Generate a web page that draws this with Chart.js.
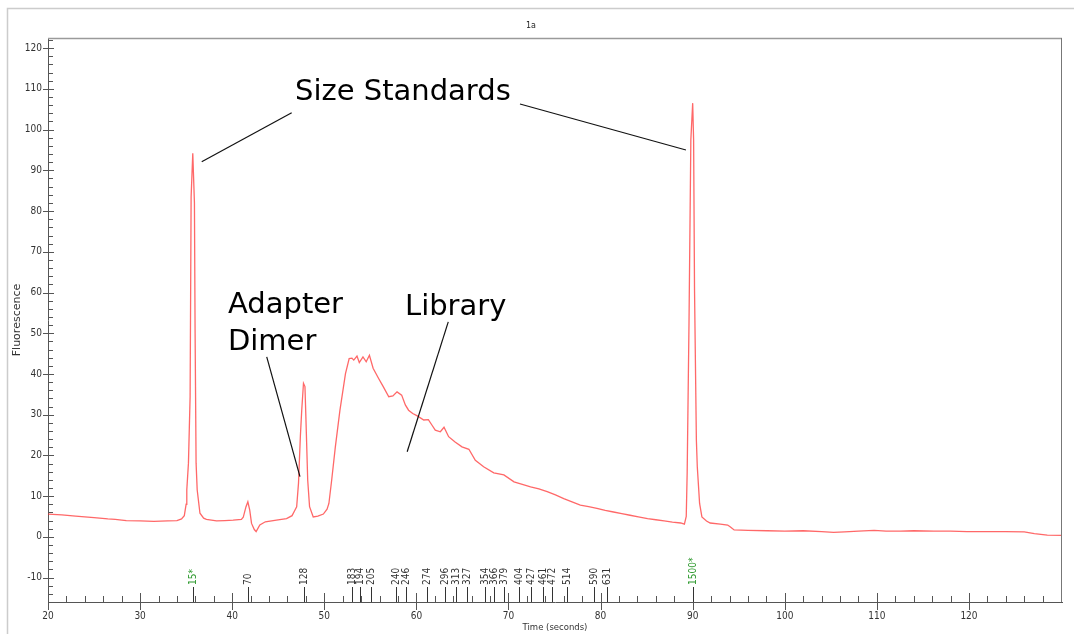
<!DOCTYPE html>
<html>
<head>
<meta charset="utf-8">
<title>1a</title>
<script src="https://cdn.jsdelivr.net/npm/chart.js@4.4.1/dist/chart.umd.min.js"></script>
<style>
  html, body { margin: 0; padding: 0; background: #fff; }
  #wrap { width: 1074px; height: 634px; }
</style>
</head>
<body>
<div id="wrap"><canvas id="trace" width="1074" height="634"></canvas></div>
<script>
// Electropherogram trace, time (s) vs fluorescence
const times = [
  20.0, 21.5, 23.0, 25.0, 26.5, 27.3, 28.5, 30.0, 31.5, 33.0, 34.0, 34.5, 34.8,
  35.0, 35.07, 35.25, 35.43, 35.54, 35.72, 35.9, 35.97, 36.08, 36.2, 36.5, 36.9,
  37.2, 38.3, 39.2, 40.1, 41.0, 41.2, 41.5, 41.7, 41.9, 42.1, 42.4, 42.6, 43.0,
  43.6, 44.8, 45.9, 46.5, 46.75, 47.0, 47.2, 47.4, 47.55, 47.74, 47.9, 48.0,
  48.2, 48.4, 48.8, 49.3, 49.9, 50.3, 50.5, 50.8, 51.2, 51.7, 52.3, 52.7, 53.0,
  53.2, 53.55, 53.8, 54.2, 54.55, 54.9, 55.3, 55.9, 56.4, 57.0, 57.45, 57.9,
  58.4, 58.8, 59.15, 59.6, 60.1, 60.8, 61.3, 61.7, 62.05, 62.6, 63.0, 63.5,
  64.2, 64.95, 65.7, 66.4, 67.3, 68.4, 69.5, 70.6, 71.5, 72.4, 73.3, 74.2,
  75.1, 76.0, 76.9, 77.8, 78.7, 79.6, 80.5, 81.4, 82.3, 83.2, 84.1, 85.1, 86.0,
  86.9, 87.8, 88.7, 89.1, 89.3, 89.4, 89.6, 89.8, 90.0, 90.1, 90.2, 90.4, 90.5,
  90.75, 91.0, 91.5, 91.9, 93.0, 93.8, 94.1, 94.5, 96.0, 98.1, 100.0, 102.0,
  104.0, 105.3, 106.5, 108.0, 109.7, 111.0, 112.6, 114.0, 116.2, 118.0, 119.8,
  122.0, 124.0, 126.0, 127.1, 128.5, 130.1
];
const fluor = [
  5.6, 5.4, 5.1, 4.7, 4.4, 4.3, 4.0, 3.9, 3.8, 3.9, 4.0, 4.4, 5.2,
  8.0, 11.5, 18.1, 34.4, 83.5, 94.2, 82.0, 50.8, 18.1, 11.5, 5.8, 4.6,
  4.3, 3.9, 4.0, 4.1, 4.3, 4.8, 7.4, 8.6, 6.6, 3.3, 1.8, 1.3, 2.9,
  3.7, 4.1, 4.5, 5.2, 6.3, 7.4, 13.2, 24.6, 31.1, 37.7, 36.9, 29.5,
  13.9, 7.4, 4.9, 5.1, 5.6, 6.8, 8.2, 13.9, 22.1, 31.1, 40.1, 43.8, 43.9,
  43.4, 44.4, 42.8, 44.2, 43.0, 44.6, 41.4, 38.9, 36.9, 34.4, 34.6, 35.6,
  34.8, 32.4, 31.1, 30.3, 29.7, 28.7, 28.8, 27.4, 26.2, 25.8, 26.9, 24.6,
  23.3, 22.1, 21.5, 18.8, 17.2, 15.7, 15.2, 13.5, 12.9, 12.3, 11.8, 11.1,
  10.3, 9.4, 8.6, 7.8, 7.4, 7.0, 6.5, 6.1, 5.7, 5.3, 4.9, 4.5, 4.2,
  3.9, 3.6, 3.4, 3.1, 5.0, 15.6, 52.5, 97.5, 106.5, 97.5, 60.6, 23.8, 17.2,
  8.2, 4.9, 3.9, 3.4, 3.1, 2.9, 2.4, 1.7, 1.6, 1.5, 1.4, 1.5,
  1.3, 1.1, 1.2, 1.4, 1.6, 1.4, 1.4, 1.5, 1.4, 1.4, 1.3,
  1.3, 1.3, 1.2, 0.8, 0.4, 0.35
];

// size ladder markers under the trace
const peakLabels = ['15*', '70', '128', '183', '194', '205', '240', '246', '274', '296', '313', '327',
  '354', '366', '379', '404', '427', '461', '472', '514', '590', '631', '1500*'];
const peakTimes = [35.76, 41.73, 47.76, 53.0, 53.9, 55.07, 57.8, 58.9, 61.15, 63.1, 64.3, 65.5,
  67.5, 68.4, 69.5, 71.1, 72.4, 73.8, 74.7, 76.4, 79.25, 80.7, 89.98];
const markerPeaks = ['15*', '1500*'];

const xTicks = [20, 30, 40, 50, 60, 70, 80, 90, 100, 110, 120];
const yTicks = [-10, 0, 10, 20, 30, 40, 50, 60, 70, 80, 90, 100, 110, 120];

// callouts, in data units: text lines and pointer lines
const notes = [
  { text: 'Size Standards', x: 46.82, y: 107.3 },
  { text: 'Adapter', x: 39.54, y: 54.9 },
  { text: 'Dimer', x: 39.54, y: 45.9 },
  { text: 'Library', x: 58.76, y: 54.5 }
];
const pointers = [
  [46.46, 104.15, 36.69, 92.1],
  [71.25, 106.3, 89.27, 95.0],
  [43.75, 44.2, 47.36, 14.8],
  [63.46, 52.8, 59.0, 20.9]
];

const tickFont = { family: '"DejaVu Sans Condensed", "DejaVu Sans", sans-serif', size: 10 };

const decor = {
    id: 'decor',
    beforeDraw(chart) {
        const ctx = chart.ctx;
        ctx.save();
        ctx.strokeStyle = '#cccccc';
        ctx.lineWidth = 1.5;
        ctx.strokeRect(7.5, 8.5, 1100, 700);
        ctx.restore();
    },
    afterDraw(chart) {
        const { ctx, chartArea: a, scales: { x, y } } = chart;
        ctx.save();

        // plot frame, top and right
        ctx.strokeStyle = '#9a9a9a';
        ctx.lineWidth = 1.5;
        ctx.beginPath();
        ctx.moveTo(a.left, a.top + 0.5);
        ctx.lineTo(a.right, a.top + 0.5);
        ctx.stroke();
        ctx.strokeStyle = '#777';
        ctx.lineWidth = 1;
        ctx.beginPath();
        ctx.moveTo(a.right - 0.5, a.top);
        ctx.lineTo(a.right - 0.5, a.bottom);
        ctx.stroke();

        // axis ticks
        ctx.strokeStyle = '#555';
        ctx.lineWidth = 1;
        ctx.beginPath();
        for (let v = 20; v < 130; v += 2) {
            const px = Math.round(x.getPixelForValue(v)) + 0.5;
            if (xTicks.includes(v)) {
                ctx.moveTo(px, a.bottom - 9);
                ctx.lineTo(px, a.bottom + 8);
            } else {
                ctx.moveTo(px, a.bottom - 6);
                ctx.lineTo(px, a.bottom);
            }
        }
        for (let v = -16; v <= 122; v += 2) {
            const py = Math.round(y.getPixelForValue(v)) + 0.5;
            if (yTicks.includes(v)) {
                ctx.moveTo(a.left - 5, py);
                ctx.lineTo(a.left + 6, py);
            } else {
                ctx.moveTo(a.left, py);
                ctx.lineTo(a.left + 5, py);
            }
        }
        ctx.stroke();

        // ladder markers
        ctx.font = '10px "DejaVu Sans Condensed", "DejaVu Sans", sans-serif';
        ctx.textAlign = 'left';
        ctx.textBaseline = 'middle';
        peakTimes.forEach((t, i) => {
            const px = Math.round(x.getPixelForValue(t)) + 0.5;
            const col = markerPeaks.includes(peakLabels[i]) ? '#2f9a2f' : '#333';
            ctx.strokeStyle = '#333';
            ctx.beginPath();
            ctx.moveTo(px, a.bottom);
            ctx.lineTo(px, a.bottom - 15);
            ctx.stroke();
            ctx.save();
            ctx.translate(px, a.bottom - 17);
            ctx.rotate(-Math.PI / 2);
            ctx.fillStyle = col;
            ctx.fillText(peakLabels[i], 0, 0);
            ctx.restore();
        });

        // callouts
        ctx.strokeStyle = '#111';
        ctx.lineWidth = 1.2;
        pointers.forEach(p => {
            ctx.beginPath();
            ctx.moveTo(x.getPixelForValue(p[0]), y.getPixelForValue(p[1]));
            ctx.lineTo(x.getPixelForValue(p[2]), y.getPixelForValue(p[3]));
            ctx.stroke();
        });
        ctx.fillStyle = '#000';
        ctx.font = '29px "DejaVu Sans", sans-serif';
        ctx.textBaseline = 'alphabetic';
        notes.forEach(n => {
            ctx.fillText(n.text, x.getPixelForValue(n.x), y.getPixelForValue(n.y));
        });

        ctx.restore();
    }
};

const traceChart = new Chart(document.getElementById('trace'), {
    type: 'line',
    data: {
        datasets: [{
            data: times.map((t, i) => ({ x: t, y: fluor[i] })),
            borderColor: 'rgba(255, 40, 40, 0.7)',
            borderWidth: 1.3,
            pointRadius: 0,
            tension: 0,
            fill: false
        }]
    },
    options: {
        responsive: false,
        animation: false,
        events: [],
        layout: { padding: { left: 0, right: 12, top: 0, bottom: 0 } },
        plugins: {
            legend: { display: false },
            tooltip: { enabled: false },
            title: {
                display: true,
                text: '1a',
                color: '#222',
                font: { family: '"DejaVu Sans", sans-serif', size: 8, weight: 'normal' },
                padding: { top: 21, bottom: 7.4 }
            }
        },
        scales: {
            x: {
                type: 'linear',
                min: 20,
                max: 130.1,
                afterBuildTicks: s => { s.ticks = xTicks.map(v => ({ value: v })); },
                afterFit: s => { s.height = 32; },
                grid: { display: true, drawOnChartArea: false, drawTicks: false },
                border: { display: true, color: '#555', width: 1 },
                ticks: { font: tickFont, color: '#333', padding: 8, maxRotation: 0, autoSkip: false },
                title: {
                    display: true,
                    text: 'Time (seconds)',
                    color: '#333',
                    font: { family: '"DejaVu Sans", sans-serif', size: 8.5 },
                    padding: { top: 0, bottom: 1 }
                }
            },
            y: {
                min: -16,
                max: 122.5,
                afterBuildTicks: s => { s.ticks = yTicks.map(v => ({ value: v })); },
                afterFit: s => { s.width = 48; },
                grid: { display: true, drawOnChartArea: false, drawTicks: false },
                border: { display: true, color: '#555', width: 1 },
                ticks: { font: tickFont, color: '#333', padding: 6 },
                title: {
                    display: true,
                    text: 'Fluorescence',
                    color: '#333',
                    font: { family: '"DejaVu Sans", sans-serif', size: 11 },
                    padding: { top: 10.4, bottom: 0 }
                }
            }
        }
    },
    plugins: [decor]
});
</script>
</body>
</html>
